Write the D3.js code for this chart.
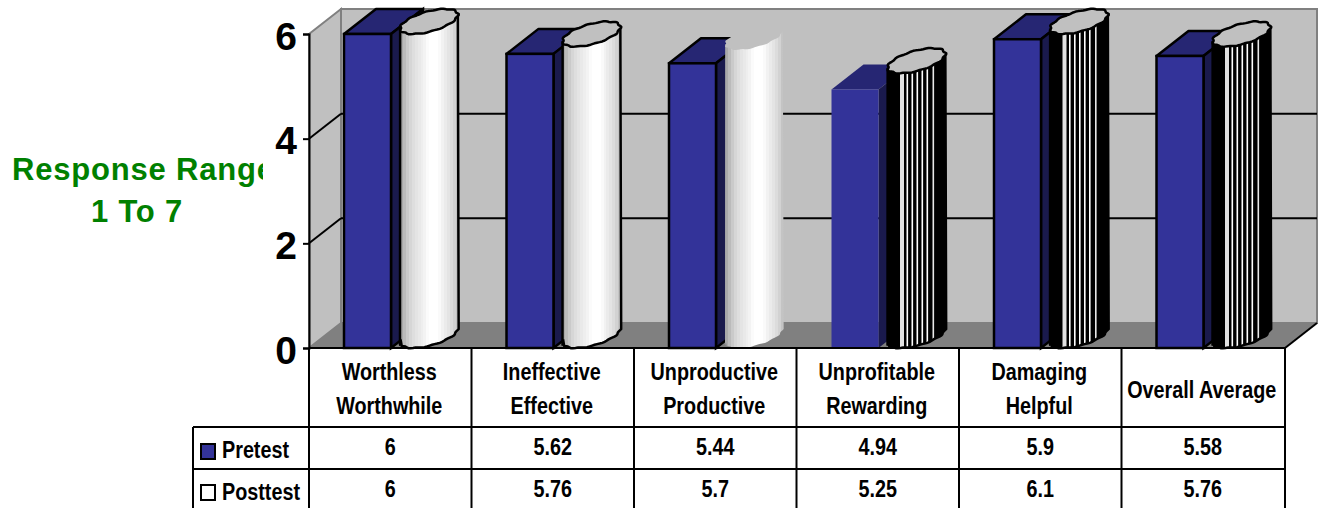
<!DOCTYPE html>
<html>
<head>
<meta charset="utf-8">
<script src="https://cdn.jsdelivr.net/npm/d3@7/dist/d3.min.js"></script>
<style>
  html, body { margin: 0; padding: 0; background: #fff; overflow: hidden; }
  svg { display: block; }
  text { font-family: "Liberation Sans", Arial, sans-serif; font-weight: bold; }
</style>
</head>
<body>
<svg id="chart" width="1320" height="508"></svg>
<script>
// Survey categories, one table column each; each label is one or two lines.
const categories = ["Worthless|Worthwhile", "Ineffective|Effective", "Unproductive|Productive",
                    "Unprofitable|Rewarding", "Damaging|Helpful", "Overall Average"];
const pretest  = [6, 5.62, 5.44, 4.94, 5.9, 5.58];
const posttest = [6, 5.76, 5.7, 5.25, 6.1, 5.76];
const pretestLabels  = ["6", "5.62", "5.44", "4.94", "5.9", "5.58"];
const posttestLabels = ["6", "5.76", "5.7", "5.25", "6.1", "5.76"];
const yTicks = [0, 2, 4, 6];

// Which marks are drawn with an outline, and which columns use the pin-stripe fill.
const pretestOutlined  = [true, true, true, false, true, true];
const posttestOutlined = [true, true, false, true, true, true];
const posttestStriped  = [false, false, false, true, true, true];
const capOutlined      = [true, true, false, true, true, true];

// Pseudo-3D projection: offset from the front plane to the back wall.
const DX = 32, DY = -25;
const BAR_W = 47, BAR_OFFSET = 34, CYL_OFFSET = 119, CYL_HALF_W = 24;

const svg = d3.select("#chart");
const x = d3.scaleBand().domain(categories).range([310, 1285]);
// Clamped so that a value above the axis maximum stops at the top of the wall.
const y = d3.scaleLinear().domain([0, 6]).range([348, 34]).clamp(true);

const defs = svg.append("defs");

// Shaded metal-look fill of the plain cylinders, stepped like a low-colour render.
const shades = ["#a9a9a9","#bbbbbb","#cacaca","#d6d6d6","#dedede","#e4e4e4","#e9e9e9","#eeeeee","#f3f3f3",
                "#fbfbfb","#ffffff","#ffffff","#ffffff","#fafafa","#f2f2f2","#ebebeb","#e4e4e4","#dcdcdc","#d2d2d2","#c4c4c4"];
const grad = defs.append("linearGradient").attr("id", "cyl").attr("x1", 0).attr("x2", 1).attr("y1", 0).attr("y2", 0);
shades.forEach((c, i) => {
  grad.append("stop").attr("offset", i / shades.length).attr("stop-color", c);
  grad.append("stop").attr("offset", (i + 1) / shades.length).attr("stop-color", c);
});

defs.append("clipPath").attr("id", "titleClip")
  .append("rect").attr("x", 0).attr("y", 130).attr("width", 263).attr("height", 110);

const WALL = "#c0c0c0", EDGE = "#808080";
const x0 = x.range()[0] - 1, x1 = x.range()[1];
const yTop = y(6), yBase = y(0);
const poly = pts => pts.map(p => p.join(",")).join(" ");

// Walls and floor
const walls = svg.append("g");
walls.append("polygon").attr("points", poly([[x0, yBase], [x0 + DX, yBase + DY], [x1 + DX, yBase + DY], [x1, yBase]]))
  .attr("fill", EDGE);
walls.append("polygon").attr("points", poly([[x0 + DX, yTop + DY], [x1 + DX, yTop + DY], [x1 + DX, yBase + DY], [x0 + DX, yBase + DY]]))
  .attr("fill", WALL).attr("stroke", EDGE).attr("stroke-width", 2);
walls.append("polygon").attr("points", poly([[x0, yTop], [x0 + DX, yTop + DY], [x0 + DX, yBase + DY], [x0, yBase]]))
  .attr("fill", WALL).attr("stroke", EDGE).attr("stroke-width", 2);

// Gridlines along the back and side walls
yTicks.filter(t => t === 2 || t === 4).forEach(t => {
  walls.append("line").attr("x1", x0 + DX).attr("x2", x1 + DX).attr("y1", y(t) + DY).attr("y2", y(t) + DY)
    .attr("stroke", "#000").attr("stroke-width", 2);
  walls.append("line").attr("x1", x0).attr("x2", x0 + DX).attr("y1", y(t)).attr("y2", y(t) + DY)
    .attr("stroke", "#000").attr("stroke-width", 2);
});
walls.append("line").attr("x1", x1).attr("x2", x1 + DX).attr("y1", yBase).attr("y2", yBase + DY)
  .attr("stroke", "#000").attr("stroke-width", 2);

// Outline of a cylinder end cap: an ellipse inscribed in the projected square,
// with the slight ripple of a coarse raster outline.
function capPoints(cx, yFront) {
  const pts = [];
  const cy = yFront + DY / 2;
  for (let i = 0; i < 72; i++) {
    const t = i / 72 * 2 * Math.PI;
    const r = 1 + 0.035 * Math.cos(t * 11);
    pts.push([cx + r * (Math.cos(t) * CYL_HALF_W + Math.sin(t) * DX / 2),
              cy + r * (Math.sin(t) * DY / 2)]);
  }
  return pts;
}
const capLine = d3.line().curve(d3.curveLinearClosed);

const marks = svg.append("g");
const OUT = "#000";

categories.forEach((c, i) => {
  const g = marks.append("g");
  const bx = x(c) + BAR_OFFSET, fy = y(pretest[i]);
  const stroke = pretestOutlined[i] ? OUT : "none";
  const sw = 2.5;
  // Pretest: a rectangular prism
  g.append("polygon").attr("points", poly([[bx, fy], [bx + DX, fy + DY], [bx + BAR_W + DX, fy + DY], [bx + BAR_W, fy]]))
    .attr("fill", "#262673").attr("stroke", stroke).attr("stroke-width", sw).attr("stroke-linejoin", "round");
  g.append("polygon").attr("points", poly([[bx + BAR_W, fy], [bx + BAR_W + DX, fy + DY], [bx + BAR_W + DX, yBase + DY], [bx + BAR_W, yBase]]))
    .attr("fill", "#1a1a4d").attr("stroke", stroke).attr("stroke-width", sw);
  g.append("rect").attr("x", bx).attr("y", fy).attr("width", BAR_W).attr("height", yBase - fy)
    .attr("fill", "#333399").attr("stroke", stroke).attr("stroke-width", sw);

  // Posttest: a cylinder whose side is bounded by the two cap silhouettes
  const cx = x(c) + CYL_OFFSET, cyf = y(posttest[i]);
  const top = capPoints(cx, cyf), base = capPoints(cx, yBase);
  const R = Math.hypot(CYL_HALF_W, DX / 2);
  const lx = cx - R, rx = cx + R;
  const dTilt = (DX / 2) / R * (-DY / 2);
  // Front half of the base cap, from the left silhouette point round to the right one
  const front = base.filter(p => p[1] >= (yBase + DY / 2) - (p[0] - cx) * (dTilt / R))
                    .sort((a, b) => a[0] - b[0]);
  const bodyPts = [[lx, cyf + DY / 2 + dTilt], ...front, [rx, cyf + DY / 2 - dTilt]];
  const clipId = "body" + i;
  defs.append("clipPath").attr("id", clipId).append("polygon").attr("points", poly(bodyPts));
  const striped = posttestStriped[i];
  g.append("polygon").attr("points", poly(bodyPts))
    .attr("fill", striped ? "#000" : "url(#cyl)");
  if (striped) {
    // Pin-stripe fill, a wide pale band at the left then narrow white lines
    const stripes = [[-16.5, 4, "#e2e2e2"], [-10, 1.6, "#fff"], [-5, 1.6, "#fff"], [0, 1.6, "#fff"],
                     [5, 1.6, "#fff"], [10, 1.6, "#fff"], [16, 1.6, "#e8e8e8"]];
    const sg = g.append("g").attr("clip-path", `url(#${clipId})`);
    sg.selectAll("rect").data(stripes).join("rect")
      .attr("x", d => cx + d[0]).attr("width", d => d[1]).attr("y", 0).attr("height", 400).attr("fill", d => d[2]);
  }
  if (posttestOutlined[i]) {
    g.append("polyline").attr("points", poly(bodyPts)).attr("fill", "none")
      .attr("stroke", OUT).attr("stroke-width", sw);
  }
  g.append("path").attr("d", capLine(top)).attr("fill", WALL)
    .attr("stroke", capOutlined[i] ? OUT : "none").attr("stroke-width", sw).attr("stroke-linejoin", "round");
});

// Value axis
const axis = d3.axisLeft(y).tickValues(yTicks).tickSize(6).tickPadding(6).tickFormat(d3.format("d"));
const axisG = svg.append("g").attr("transform", `translate(${x0},0)`).call(axis);
axisG.selectAll(".domain").attr("stroke", "#000").attr("stroke-width", 2);
axisG.selectAll(".tick line").attr("stroke", "#000").attr("stroke-width", 2);
axisG.selectAll(".tick text").attr("font-size", 39).attr("fill", "#000")
  .attr("font-family", '"Liberation Sans", Arial, sans-serif').attr("font-weight", "bold").attr("dy", "0.39em");

// Vertical title, cut off where its frame ends
const title = svg.append("g").attr("clip-path", "url(#titleClip)")
  .attr("font-size", 31).attr("fill", "#008000").attr("letter-spacing", 0.8);
title.append("text").attr("x", 12).attr("y", 180).text("Response Range");
title.append("text").attr("x", 137).attr("y", 222).attr("text-anchor", "middle").text("1 To 7");

// Data table under the plot
const ROW_HEAD = 348, ROW_A = 427, ROW_B = 469, TABLE_L = 193, TABLE_BOTTOM = 508;
const tbl = svg.append("g").attr("stroke", "#000").attr("stroke-width", 2);
[[x0, x1, ROW_HEAD], [TABLE_L, x1, ROW_A], [TABLE_L, x1, ROW_B]].forEach(([a, b, yy]) =>
  tbl.append("line").attr("x1", a).attr("x2", b).attr("y1", yy).attr("y2", yy));
tbl.append("line").attr("x1", TABLE_L).attr("x2", TABLE_L).attr("y1", ROW_A).attr("y2", TABLE_BOTTOM);
x.domain().forEach(c => tbl.append("line").attr("x1", x(c) - 1).attr("x2", x(c) - 1).attr("y1", ROW_HEAD).attr("y2", TABLE_BOTTOM));
tbl.append("line").attr("x1", x1).attr("x2", x1).attr("y1", ROW_HEAD).attr("y2", TABLE_BOTTOM);

// Table text is set in a condensed cut of the face
const NARROW = 0.86;
function cellText(px, py, str, anchor) {
  svg.append("text").attr("transform", `translate(${px},${py}) scale(${NARROW},1)`)
    .attr("text-anchor", anchor || "middle").attr("font-size", 23).attr("fill", "#000").text(str);
}
categories.forEach((c, i) => {
  const cx = x(c) + x.bandwidth() / 2 - 2;
  const lines = c.split("|");
  if (lines.length === 2) {
    cellText(cx, 380, lines[0]);
    cellText(cx, 414, lines[1]);
  } else {
    cellText(cx, 398, lines[0]);
  }
  cellText(cx + 1, 455, pretestLabels[i]);
  cellText(cx + 1, 497, posttestLabels[i]);
});

// Legend keys in the row headers
svg.append("rect").attr("x", 201).attr("y", 444).attr("width", 14).attr("height", 15)
  .attr("fill", "#333399").attr("stroke", "#000").attr("stroke-width", 2);
svg.append("rect").attr("x", 201).attr("y", 485).attr("width", 14).attr("height", 15)
  .attr("fill", "#fff").attr("stroke", "#000").attr("stroke-width", 2);
cellText(222, 458, "Pretest", "start");
cellText(222, 500, "Posttest", "start");
</script>
</body>
</html>
